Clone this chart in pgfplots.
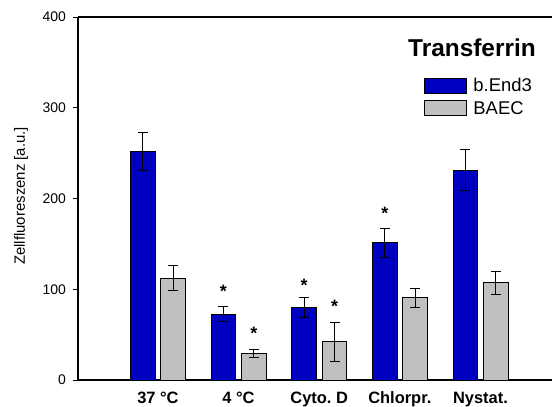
\documentclass[border=0pt]{standalone}
\usepackage{fontspec}
\setmainfont{Liberation Sans}
\usepackage{pgfplots}
\pgfplotsset{compat=1.18}
\usetikzlibrary{plotmarks}
\definecolor{bend}{RGB}{0,0,192}
\definecolor{baec}{RGB}{192,192,192}
\pgfplotsset{
  BarStyle/.style={
    ybar, bar width=0.306, bar shift=0pt, draw=black, line width=1bp,
    error bars/.cd, y dir=both, y explicit,
    error bar style={line width=1bp, black},
    error mark options={rotate=90, mark size=5bp, line width=1bp, black},
    /pgfplots/.cd,
  },
}
% bars are placed directly at their centres (group centre -0.187 / +0.19)
\begin{document}
\begin{tikzpicture}
\begin{axis}[
  at={(0,0)}, anchor=south west,
  scale only axis, width=474bp, height=363bp,
  xmin=-0.991, xmax=4.887, ymin=0, ymax=400,
  axis lines=left,
  axis line style={-, line width=1.2bp},
  clip=false,
  ytick={0,100,200,300,400},
  xtick={0,1,2,3,4},
  xticklabels={37 °C, 4 °C, Cyto.\ D, Chlorpr., Nystat.},
  xtick style={draw=none},
  ytick style={line width=1bp, black},
  tick align=outside,
  major tick length=5bp,
  /pgf/number format/assume math mode=true,
  yticklabel style={font=\fontsize{14}{16}\selectfont, anchor=east, inner sep=0pt, xshift=-6.8bp},
  xticklabel style={font=\bfseries\fontsize{16.5}{20}\selectfont, anchor=base, inner sep=0pt, yshift=-18bp},
  ylabel={Zellfluoreszenz [a.u.]},
  ylabel style={at={(axis description cs:-0.1203,0.507)}, anchor=center, font=\fontsize{15}{18}\selectfont},
  legend style={draw=none, fill=none, inner sep=0pt, anchor=north west,
    at={(rel axis cs:0.730,0.837)}, font=\fontsize{18.5}{22}\selectfont,
    nodes={inner sep=2bp}, row sep=4bp,
    /tikz/every odd column/.style={column sep=4.7bp}},
  legend cell align=left,
  legend image code/.code={\draw[#1, line width=1bp] (0bp,-7.5bp) rectangle (41.5bp,7.5bp);},
]
\addplot[BarStyle, fill=bend] coordinates {
  (-0.187,252) +- (0,21)
  (0.813,72.5) +- (0,8)
  (1.813,80) +- (0,11)
  (2.813,151) +- (0,15.5)
  (3.813,231) +- (0,22.5)
};
\addlegendentry{b.End3}
\addplot[BarStyle, fill=baec] coordinates {
  (0.19,112) +- (0,13.8)
  (1.19,29.5) +- (0,4.5)
  (2.19,42) +- (0,21.5)
  (3.19,90.5) +- (0,10.5)
  (4.19,107) +- (0,13)
};
\addlegendentry{BAEC}
% significance stars
\addplot[forget plot, only marks, mark=text,
  text mark={\fontsize{18}{20}\selectfont\bfseries *}] coordinates {
  (0.813,97.6) (1.19,51.6) (1.813,104.2) (2.19,81) (2.813,183.2)
};
\draw[line width=1.2bp] (rel axis cs:0,1) -- (rel axis cs:1,1);
\end{axis}
\node[anchor=base, font=\bfseries\fontsize{24.5}{28}\selectfont] at (394bp,323.3bp) {Transferrin};
\pgfresetboundingbox
\path[use as bounding box] (-78bp,-27bp) rectangle (474bp,380bp);
\end{tikzpicture}
\end{document}
